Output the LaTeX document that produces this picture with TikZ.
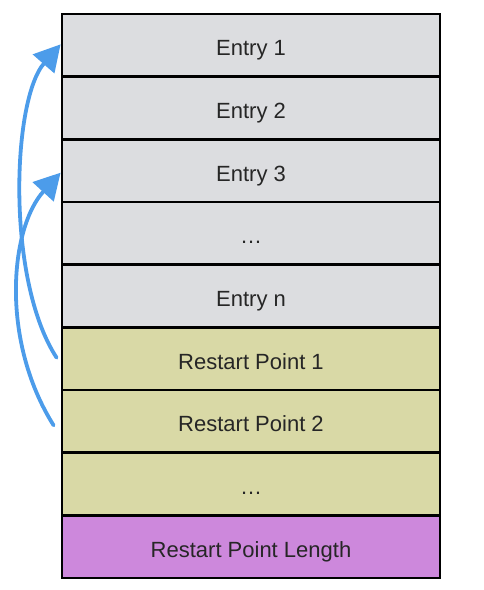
\documentclass[tikz,border=0pt]{standalone}
\usepackage{fontspec}
\setmainfont{Liberation Sans}
\usetikzlibrary{arrows.meta}
\definecolor{entrygray}{HTML}{DCDDE0}
\definecolor{rpolive}{HTML}{D9D9A6}
\definecolor{rplen}{HTML}{CD88DC}
\definecolor{arrowblue}{HTML}{4C9CEA}
\definecolor{txt}{HTML}{262626}
\tikzset{
  row/.style={draw=black, line width=2.8pt, minimum width=378pt, minimum height=62.67pt,
    inner sep=0pt, text=txt, font=\fontsize{22}{26}\selectfont, text height=21pt, text depth=0pt, anchor=center},
  entry/.style={row, fill=entrygray},
  restart/.style={row, fill=rpolive},
  rlength/.style={row, fill=rplen},
  jump/.style={draw=arrowblue, line width=3.8pt, line cap=round,
    -{Triangle[length=26pt,width=28pt]}}
}
\begin{document}
\begin{tikzpicture}[x=1pt,y=-1pt]
\useasboundingbox (0,0) rectangle (484,590);
\node[entry]   (r1) at (251,45.33)  {Entry 1};
\node[entry]   (r2) at (251,108.0)  {Entry 2};
\node[entry]   (r3) at (251,170.67) {Entry 3};
\node[entry]   (r4) at (251,233.33) {…};
\node[entry]   (r5) at (251,296.0)  {Entry n};
\node[restart] (r6) at (251,358.67) {Restart Point 1};
\node[restart] (r7) at (251,421.33) {Restart Point 2};
\node[restart] (r8) at (251,484.0)  {…};
\node[rlength] (r9) at (251,546.67) {Restart Point Length};
\draw[jump] ([xshift=-4pt,yshift=1pt]r6.west) .. controls (6,280) and (12,100) .. ([xshift=0pt,yshift=1pt]r1.west);
\draw[jump] ([xshift=-7pt,yshift=-4pt]r7.west) .. controls (0,340) and (10,228) .. ([xshift=0pt,yshift=-2pt]r3.west);
\end{tikzpicture}
\end{document}
